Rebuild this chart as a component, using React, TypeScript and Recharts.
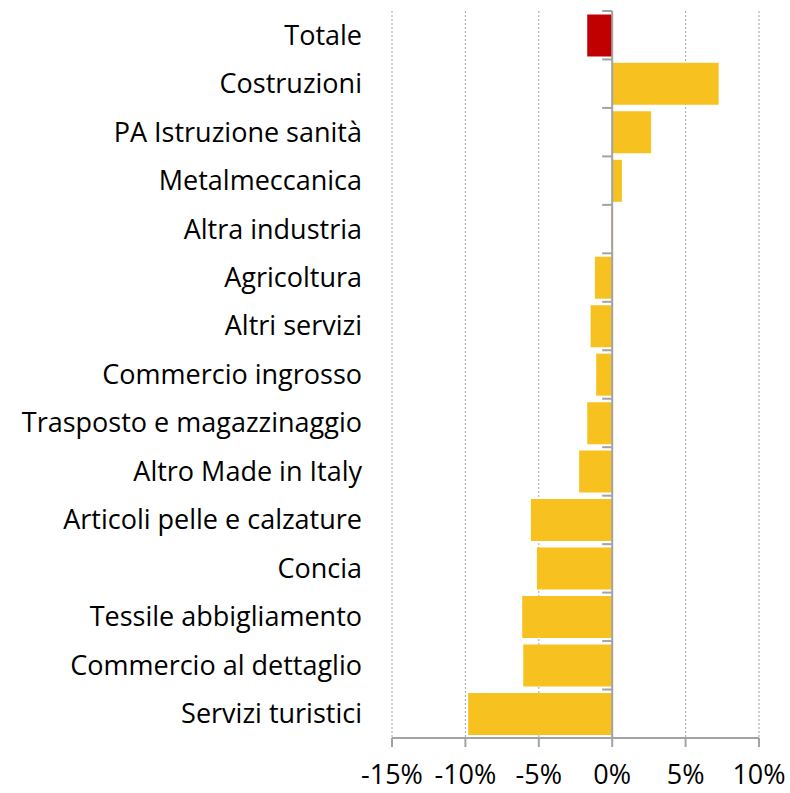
import { BarChart, Bar, XAxis, YAxis, CartesianGrid, ReferenceLine, Cell } from "recharts";

// Variazione % per settore, barre orizzontali

const categories = [
  "Totale",
  "Costruzioni",
  "PA Istruzione sanità",
  "Metalmeccanica",
  "Altra industria",
  "Agricoltura",
  "Altri servizi",
  "Commercio ingrosso",
  "Trasposto e magazzinaggio",
  "Altro Made in Italy",
  "Articoli pelle e calzature",
  "Concia",
  "Tessile abbigliamento",
  "Commercio al dettaglio",
  "Servizi turistici",
];

const values = [-1.7, 7.25, 2.65, 0.66, -0.08, -1.18, -1.47, -1.09, -1.7, -2.25, -5.54, -5.13, -6.13, -6.06, -9.81];

const xTicks = [-15, -10, -5, 0, 5, 10];

const data = categories.map((name, i) => ({ name, value: values[i] }));

const W = 790;
const H = 793;
const M = { top: 11, right: 31, left: 0, bottom: 0 };
const Y_W = 392;
const X_H = 55;
const FONT = "'Open Sans', Lato, sans-serif";
const GRAY = "#a3a3a3";

// posizione dello zero sull'asse x (per i trattini dell'asse categorie)
const plotW = W - M.left - M.right - Y_W;
const zeroX = Y_W + (plotW * (0 - xTicks[0])) / (xTicks[xTicks.length - 1] - xTicks[0]);
const band = (H - M.top - M.bottom - X_H) / categories.length;

const CatTick = (props: any) => {
  const { y, payload, index } = props;
  return (
    <g>
      <text x={362} y={y} dy="0.35em" textAnchor="end" fontSize={27} fontFamily={FONT} fill="#000">
        {payload.value}
      </text>
      <line x1={zeroX - 10} x2={zeroX} y1={y - band / 2} y2={y - band / 2} stroke={GRAY} strokeWidth={2} />
      {index === categories.length - 1 && (
        <line x1={zeroX - 10} x2={zeroX} y1={y + band / 2} y2={y + band / 2} stroke={GRAY} strokeWidth={2} />
      )}
    </g>
  );
};

export default function App() {
  return (
    <div style={{ position: "absolute", left: 0, top: 0, background: "#fff" }}>
      <BarChart width={W} height={H} data={data} layout="vertical" margin={M} barCategoryGap="7%">
        <CartesianGrid horizontal={false} vertical stroke={GRAY} strokeDasharray="2 2" />
        <XAxis
          type="number"
          domain={[xTicks[0], xTicks[xTicks.length - 1]]}
          ticks={xTicks}
          interval={0}
          height={X_H}
          tickFormatter={(v) => `${v}%`}
          axisLine={{ stroke: GRAY, strokeWidth: 2 }}
          tickLine={{ stroke: GRAY, strokeWidth: 2 }}
          tickSize={9}
          tickMargin={18}
          tick={{ fontSize: 27, fontFamily: FONT, fill: "#000" }}
        />
        <YAxis
          type="category"
          dataKey="name"
          width={Y_W}
          axisLine={false}
          tickLine={false}
          interval={0}
          tick={<CatTick />}
        />
        <ReferenceLine x={0} stroke={GRAY} strokeWidth={2} />
        <Bar dataKey="value" isAnimationActive={false}>
          {data.map((d, i) => (
            <Cell key={d.name} fill={i === 0 ? "#c00000" : "#f7c120"} />
          ))}
        </Bar>
      </BarChart>
    </div>
  );
}
